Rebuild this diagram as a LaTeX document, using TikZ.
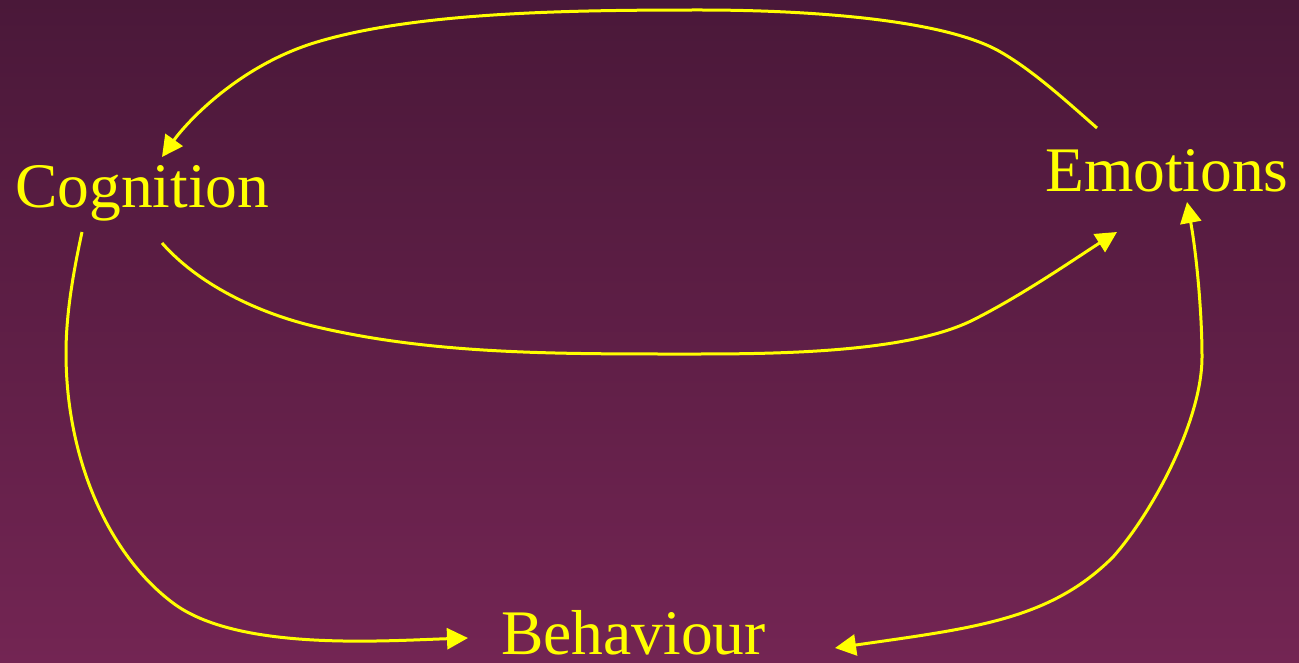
\documentclass[tikz,border=0pt]{standalone}
\usepackage{fontspec}
\setmainfont{Liberation Serif}
\usetikzlibrary{arrows.meta}
\definecolor{bgtop}{RGB}{74,24,57}
\definecolor{bgbot}{RGB}{115,37,83}
\definecolor{lblc}{RGB}{255,255,0}
\begin{document}
\begin{tikzpicture}[x=1pt,y=-1pt,
  lbl/.style={text=lblc, font=\fontsize{63.5}{70}\selectfont, inner sep=0pt, anchor=base west},
  conn/.style={draw=lblc, line width=3pt, -{Triangle[length=21pt,width=21pt]}},
  conn2/.style={draw=lblc, line width=3pt, {Triangle[length=21pt,width=21pt]}-{Triangle[length=21pt,width=21pt]}}
]
\fill[top color=bgtop,bottom color=bgbot] (0,0) rectangle (1299,663);
\useasboundingbox (0,0) rectangle (1299,663);

\node[lbl] (cog) at (15,208) {Cognition};
\node[lbl] (emo) at (1045,192) {Emotions};
\node[lbl, text depth=0pt] (beh) at (501,654) {Behaviour};

% connector end points
\coordinate (emoTopOut) at (1097,128);
\coordinate (cogTopIn)  at (162,157);
\coordinate (cogRightOut) at (162,243);
\coordinate (emoLeftIn) at (1117,232);
\coordinate (cogDownOut) at (82,232);
\coordinate (behLeftIn) at (468,638);
\coordinate (emoDownIn) at (1187,202);
\coordinate (behRightIn) at (835,648);

% Emotions -> Cognition (top arc)
\draw[conn] (emoTopOut)
  .. controls (1064,99) and (1030,68) .. (997,50)
  .. controls (937,18) and (800,10) .. (700,10)
  .. controls (570,10) and (417,12) .. (317,42)
  .. controls (237,66) and (185,124.6) .. (cogTopIn);

% Cognition -> Emotions (middle arc)
\draw[conn] (cogRightOut)
  .. controls (198,284) and (257,313) .. (317,327)
  .. controls (437,355) and (560,354) .. (700,354)
  .. controls (800,354) and (913,350) .. (973,320)
  .. controls (1023,295) and (1079,256) .. (emoLeftIn);

% Cognition -> Behaviour
\draw[conn] (cogDownOut)
  .. controls (73.6,271) and (66,313) .. (66,353)
  .. controls (66,460) and (109,555) .. (173,603)
  .. controls (237,651) and (380,641) .. (behLeftIn);

% Emotions <-> Behaviour
\draw[conn2] (emoDownIn)
  .. controls (1196,251) and (1202,310) .. (1202,357)
  .. controls (1202,420) and (1153,512) .. (1113,557)
  .. controls (1050,620) and (974,628) .. (behRightIn);
\end{tikzpicture}
\end{document}
